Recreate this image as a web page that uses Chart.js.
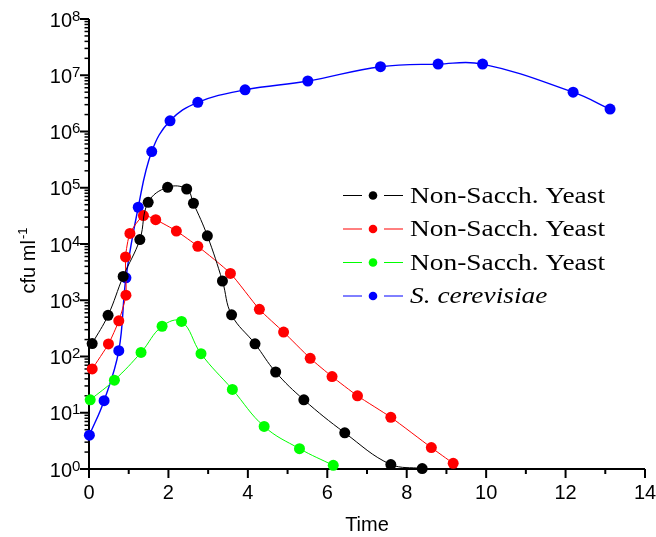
<!DOCTYPE html>
<html lang="en">
<head>
<meta charset="UTF-8">
<title>cfu ml-1 vs Time</title>
<script src="https://cdn.jsdelivr.net/npm/chart.js"></script>
<style>
  body { margin: 0; background: #fff; }
  #wrap { width: 656px; height: 537px; }
</style>
</head>
<body>
<div id="wrap"><canvas id="myChart" width="656" height="537"></canvas></div>
<script>
// values
var legendNames = ['Non-Sacch. Yeast', 'Non-Sacch. Yeast', 'Non-Sacch. Yeast', 'S. cerevisiae']
var seriesColors = ['#000000', '#ff0000', '#00ff00', '#0000ff']

var blackTime = [0.08, 0.48, 0.86, 1.28, 1.49, 1.98, 2.46, 2.63, 2.98, 3.36, 3.59, 4.18, 4.70, 5.41, 6.44, 7.60, 8.39]
var blackCfu = [170, 540, 2650, 12000, 55000, 102000, 95000, 53000, 14000, 2200, 550, 168, 53, 17, 4.4, 1.2, 1.02]

var redTime = [0.08, 0.49, 0.75, 0.93, 0.92, 1.03, 1.37, 1.68, 2.20, 2.74, 3.56, 4.29, 4.90, 5.57, 6.12, 6.76, 7.60, 8.62, 9.17]
var redCfu = [60, 167, 430, 1230, 5900, 15400, 32000, 27000, 17000, 9100, 3000, 690, 272, 93, 44, 20, 8.3, 2.4, 1.26]

var greenTime = [0.03, 0.64, 1.31, 1.84, 2.33, 2.82, 3.61, 4.41, 5.30, 6.15]
var greenCfu = [17, 38, 118, 345, 420, 112, 26, 5.7, 2.3, 1.16]

var blueTime = [0.01, 0.38, 0.75, 0.93, 1.24, 1.58, 2.04, 2.74, 3.93, 5.51, 7.34, 8.79, 9.91, 12.19, 13.12]
var blueCfu = [4.0, 16.4, 127, 2500, 45000, 440000, 1.55e6, 3.3e6, 5.5e6, 7.9e6, 1.42e7, 1.58e7, 1.58e7, 5.0e6, 2.5e6]

var xTicks = [0, 2, 4, 6, 8, 10, 12, 14]
var yExponents = [0, 1, 2, 3, 4, 5, 6, 7, 8]

function pts(t, v) {
  var out = []
  for (var i = 0; i < t.length; i++) out.push({ x: t[i], y: v[i] })
  return out
}

function makeSet(i, t, v, tension, width) {
  return {
    label: legendNames[i],
    data: pts(t, v),
    showLine: true,
    borderColor: seriesColors[i],
    backgroundColor: seriesColors[i],
    borderWidth: width,
    pointRadius: 5.5,
    pointBorderWidth: 0,
    pointBackgroundColor: seriesColors[i],
    tension: tension,
    clip: false
  }
}

// axes, ticks, labels and legend drawn by hand from the chart's own scales
var axesPlugin = {
  id: 'axesPlugin',
  beforeDatasetsDraw: function (chart) {
    var ctx = chart.ctx, xs = chart.scales.x, ys = chart.scales.y
    var left = xs.getPixelForValue(0), right = xs.getPixelForValue(14)
    var bottom = ys.getPixelForValue(1), top = ys.getPixelForValue(1e8)
    ctx.save()
    ctx.strokeStyle = '#000'
    ctx.lineWidth = 2
    ctx.beginPath()
    ctx.moveTo(left, top)
    ctx.lineTo(left, bottom)
    ctx.lineTo(right, bottom)
    ctx.stroke()

    // x ticks
    for (var t = 0; t <= 14; t++) {
      var px = xs.getPixelForValue(t)
      var len = (t % 2 == 0) ? 9 : 5
      ctx.lineWidth = 2
      ctx.beginPath()
      ctx.moveTo(px, bottom)
      ctx.lineTo(px, bottom + len)
      ctx.stroke()
    }
    // y ticks (log)
    for (var e = 0; e <= 8; e++) {
      var py = ys.getPixelForValue(Math.pow(10, e))
      ctx.lineWidth = 2
      ctx.beginPath()
      ctx.moveTo(left, py)
      ctx.lineTo(left - 9, py)
      ctx.stroke()
      if (e < 8) {
        for (var k = 2; k <= 9; k++) {
          var pm = ys.getPixelForValue(k * Math.pow(10, e))
          ctx.lineWidth = 1.5
          ctx.beginPath()
          ctx.moveTo(left, pm)
          ctx.lineTo(left - 4.5, pm)
          ctx.stroke()
        }
      }
    }

    // tick labels
    ctx.fillStyle = '#000'
    ctx.font = '20px "Liberation Sans", Arial, sans-serif'
    ctx.textAlign = 'center'
    ctx.textBaseline = 'alphabetic'
    xTicks.forEach(function (v) {
      ctx.fillText(String(v), xs.getPixelForValue(v), bottom + 30)
    })
    yExponents.forEach(function (e) {
      var py = ys.getPixelForValue(Math.pow(10, e))
      ctx.font = '20px "Liberation Sans", Arial, sans-serif'
      ctx.textAlign = 'right'
      ctx.fillText('10', left - 17, py + 7.5)
      ctx.font = '15px "Liberation Sans", Arial, sans-serif'
      ctx.textAlign = 'left'
      ctx.fillText(String(e), left - 17, py + 1.5)
    })

    // axis titles
    ctx.font = '20px "Liberation Sans", Arial, sans-serif'
    ctx.textAlign = 'center'
    ctx.fillText('Time', (left + right) / 2, 531)

    ctx.save()
    ctx.translate(35, 261)
    ctx.rotate(-Math.PI / 2)
    ctx.font = '20px "Liberation Sans", Arial, sans-serif'
    var w1 = ctx.measureText('cfu ml').width
    ctx.font = '13px "Liberation Sans", Arial, sans-serif'
    var w2 = ctx.measureText('-1').width
    var sx = -(w1 + w2) / 2
    ctx.textAlign = 'left'
    ctx.font = '20px "Liberation Sans", Arial, sans-serif'
    ctx.fillText('cfu ml', sx, 0)
    ctx.font = '13px "Liberation Sans", Arial, sans-serif'
    ctx.fillText('-1', sx + w1 + 1, -8)
    ctx.restore()
    ctx.restore()
  },
  afterDraw: function (chart) {
    var ctx = chart.ctx
    ctx.save()
    var baseFont = '23px "Liberation Serif", "Times New Roman", serif'
    ctx.font = baseFont
    var stretch = 195 / ctx.measureText('Non-Sacch. Yeast').width
    for (var i = 0; i < legendNames.length; i++) {
      var y = 195.5 + i * 33.5
      ctx.strokeStyle = seriesColors[i]
      ctx.lineWidth = 1
      ctx.beginPath()
      ctx.moveTo(343, y); ctx.lineTo(362, y)
      ctx.moveTo(384, y); ctx.lineTo(403, y)
      ctx.stroke()
      ctx.fillStyle = seriesColors[i]
      ctx.beginPath()
      ctx.arc(373, y, 4.3, 0, Math.PI * 2)
      ctx.fill()

      ctx.fillStyle = '#000'
      ctx.font = (i == 3 ? 'italic ' : '') + baseFont
      ctx.textAlign = 'left'
      ctx.textBaseline = 'middle'
      ctx.save()
      ctx.translate(410, y + 1)
      ctx.scale(stretch, 1)
      ctx.fillText(legendNames[i], 0, 0)
      ctx.restore()
    }
    ctx.restore()
  }
}

new Chart(document.getElementById('myChart'), {
  type: 'scatter',
  data: {
    datasets: [
      makeSet(0, blackTime, blackCfu, 0.4, 1),
      makeSet(1, redTime, redCfu, 0.2, 1),
      makeSet(2, greenTime, greenCfu, 0.4, 1),
      makeSet(3, blueTime, blueCfu, 0.4, 1.4)
    ]
  },
  options: {
    responsive: false,
    animation: false,
    layout: { padding: { left: 89, right: 11, top: 19, bottom: 68 } },
    plugins: { legend: { display: false }, tooltip: { enabled: false } },
    scales: {
      x: { type: 'linear', min: 0, max: 14, display: false },
      y: { type: 'logarithmic', min: 1, max: 1e8, display: false }
    }
  },
  plugins: [axesPlugin]
})
</script>
</body>
</html>
